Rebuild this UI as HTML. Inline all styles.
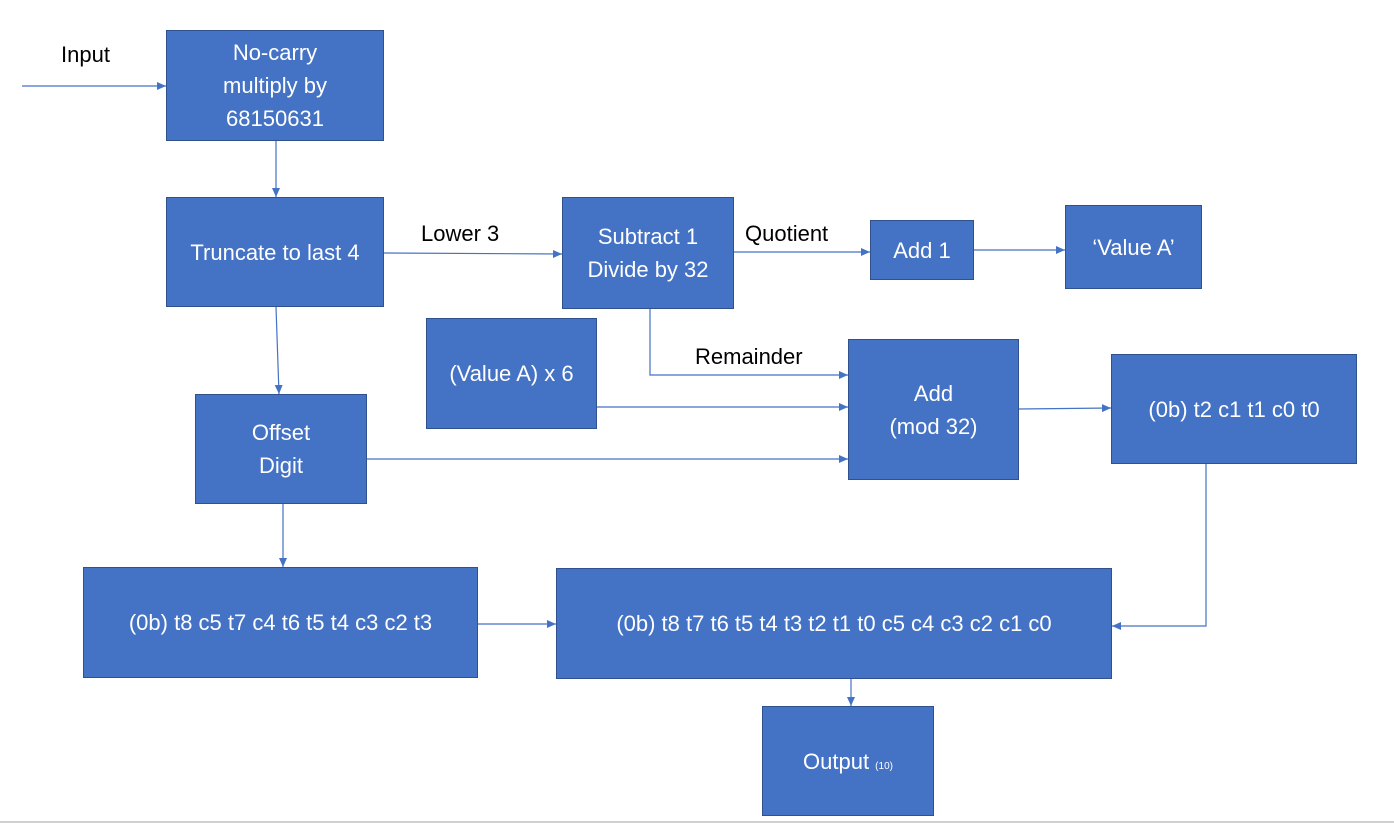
<!DOCTYPE html>
<html><head><style>
body{margin:0;width:1394px;height:825px;background:#fff;position:relative;overflow:hidden;font-family:"Liberation Sans",sans-serif}
.b{position:absolute;box-sizing:border-box;background:#4472C4;border:1px solid #2F528F;color:#fff;display:flex;align-items:center;justify-content:center;text-align:center;font-size:22px;line-height:33px}
.t{position:absolute;font-size:22px;color:#000}
svg{position:absolute;left:0;top:0}
</style></head><body>
<svg width="1394" height="825">
<defs><marker id="a" markerWidth="10" markerHeight="10" refX="9" refY="5" orient="auto" markerUnits="userSpaceOnUse"><path d="M0,1 L9,5 L0,9 z" fill="#4472C4"/></marker></defs>
<g stroke="#4472C4" stroke-width="1.2" fill="none" marker-end="url(#a)">
<line x1="22" y1="86" x2="166" y2="86"/>
<line x1="276" y1="141" x2="276" y2="197"/>
<line x1="384" y1="253" x2="562" y2="254"/>
<line x1="734" y1="252" x2="870" y2="252"/>
<line x1="974" y1="250" x2="1065" y2="250"/>
<line x1="276" y1="307" x2="279" y2="394"/>
<polyline points="650,309 650,375 848,375"/>
<line x1="597" y1="407" x2="848" y2="407"/>
<line x1="367" y1="459" x2="848" y2="459"/>
<line x1="1019" y1="409" x2="1111" y2="408"/>
<polyline points="1206,464 1206,626 1112,626"/>
<line x1="283" y1="504" x2="283" y2="567"/>
<line x1="478" y1="624" x2="556" y2="624"/>
<line x1="851" y1="679" x2="851" y2="706"/>
</g>
<line x1="0" y1="822" x2="1394" y2="822" stroke="#d0d0d0" stroke-width="2"/>
</svg>
<div class="t" style="left:61px;top:42px">Input</div>
<div class="t" style="left:421px;top:221px">Lower 3</div>
<div class="t" style="left:745px;top:221px">Quotient</div>
<div class="t" style="left:695px;top:344px">Remainder</div>
<div class="b" style="left:166px;top:30px;width:218px;height:111px">No-carry<br>multiply by<br>68150631</div>
<div class="b" style="left:166px;top:197px;width:218px;height:110px">Truncate to last 4</div>
<div class="b" style="left:562px;top:197px;width:172px;height:112px">Subtract 1<br>Divide by 32</div>
<div class="b" style="left:870px;top:220px;width:104px;height:60px">Add 1</div>
<div class="b" style="left:1065px;top:205px;width:137px;height:84px">‘Value A’</div>
<div class="b" style="left:426px;top:318px;width:171px;height:111px">(Value A) x 6</div>
<div class="b" style="left:195px;top:394px;width:172px;height:110px">Offset<br>Digit</div>
<div class="b" style="left:848px;top:339px;width:171px;height:141px">Add<br>(mod 32)</div>
<div class="b" style="left:1111px;top:354px;width:246px;height:110px">(0b) t2 c1 t1 c0 t0</div>
<div class="b" style="left:83px;top:567px;width:395px;height:111px">(0b) t8 c5 t7 c4 t6 t5 t4 c3 c2 t3</div>
<div class="b" style="left:556px;top:568px;width:556px;height:111px">(0b) t8 t7 t6 t5 t4 t3 t2 t1 t0 c5 c4 c3 c2 c1 c0</div>
<div class="b" style="left:762px;top:706px;width:172px;height:110px">Output&nbsp;<span style="font-size:10px;position:relative;top:5px">(10)</span></div>
</body></html>
